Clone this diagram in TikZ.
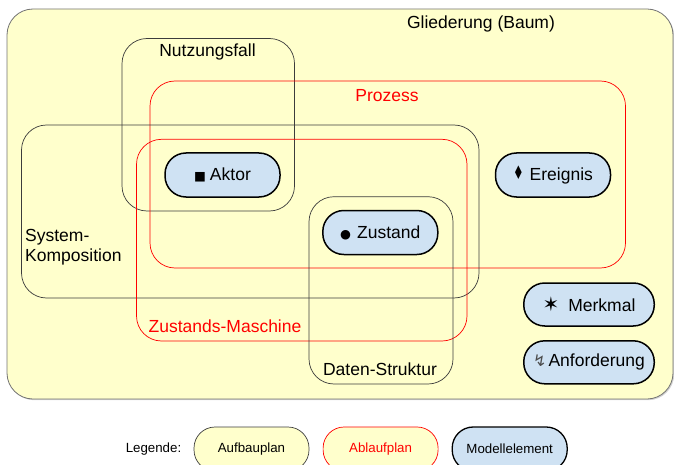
\documentclass[tikz,border=0pt]{standalone}
\usepackage{fontspec}
\usepackage{graphicx}
\setmainfont{Liberation Sans}
\newfontfamily\symfnt{DejaVu Sans}
\usetikzlibrary{shadows}
\definecolor{bgyellow}{RGB}{255,255,204}
\definecolor{mblue}{RGB}{207,226,243}
\definecolor{pline}{RGB}{60,60,60}
\begin{document}
\begin{tikzpicture}[x=1pt,y=-1pt,
  every node/.style={font=\fontsize{17.5}{20}\selectfont, inner sep=0pt},
  outerbox/.style={draw=black!55, fill=bgyellow, line width=0.8pt, rounded corners=26pt,
    drop shadow={shadow xshift=1.2pt, shadow yshift=-1.2pt, opacity=0.35}},
  planbox/.style={draw=pline, line width=0.7pt, rounded corners=25pt},
  flowbox/.style={draw=red, line width=0.7pt, rounded corners=25pt},
  melem/.style={draw=black, fill=mblue, line width=1.5pt, rounded corners=21pt},
  lbl/.style={anchor=center},
  lgd/.style={font=\fontsize{13.3}{15}\selectfont}]
\useasboundingbox (0,0) rectangle (674,465);
\clip (0,0) rectangle (674,465);
% outer structure
\node[outerbox, minimum width=666, minimum height=390] (glied) at (340,204) {};
\node[lbl] (gliedl) at (481,24) {Gliederung (Baum)};
% plan boxes
\node[planbox, minimum width=172.5, minimum height=172.5] (nutz) at (208.25,124.75) {};
\node[lbl] (nutzl) at (207.5,52) {Nutzungsfall};
\node[flowbox, minimum width=475.5, minimum height=187] (proz) at (387.75,174.5) {};
\node[lbl, text=red] (prozl) at (387,95.7) {Prozess};
\node[planbox, minimum width=457.5, minimum height=173] (sys) at (250.25,211.5) {};
\node[anchor=west, align=left, font=\fontsize{17.5}{19.7}\selectfont] (sysl) at (25,247) {System-\\Komposition};
\node[flowbox, minimum width=330.5, minimum height=201.7] (zm) at (301.75,240.15) {};
\node[lbl, text=red] (zml) at (225,326) {Zustands-Maschine};
\node[planbox, minimum width=144, minimum height=187.3] (ds) at (381,290.35) {};
\node[lbl] (dsl) at (380,369) {Daten-Struktur};
% model elements
\node[melem, minimum width=115, minimum height=44] (aktor) at (222.5,175) {{\symfnt\fontsize{12.5}{10}\selectfont ■}\hspace{4pt}Aktor};
\node[melem, minimum width=115, minimum height=44] (zust) at (380.3,232.5) {{\symfnt\fontsize{12.5}{10}\selectfont ●}\hspace{6pt}Zustand};
\node[melem, minimum width=115, minimum height=44] (ereig) at (553,175) {\raisebox{0.3pt}{\scalebox{0.7}[1.1]{\symfnt\fontsize{17}{10}\selectfont ♦}}\hspace{6pt}Ereignis};
\node[melem, minimum width=130.5, minimum height=43] (merk) at (589,304.5) {{\symfnt\fontsize{20}{10}\selectfont ✶}\hspace{9pt}Merkmal};
\node[melem, minimum width=130.5, minimum height=43] (anf) at (589,362.3) {{\symfnt\fontsize{16}{10}\selectfont\color{black!70}↯}\hspace{2pt}Anforderung};
% legend
\node[lgd] (legl) at (153.5,449) {Legende:};
\node[draw=pline, fill=bgyellow, line width=0.7pt, rounded corners=21pt, minimum width=115, minimum height=44, lgd] (laufb) at (251.5,449) {Aufbauplan};
\node[draw=red, fill=bgyellow, line width=0.7pt, rounded corners=21pt, minimum width=115, minimum height=44, lgd, text=red] (lablauf) at (380.6,449) {Ablaufplan};
\node[melem, minimum width=115, minimum height=44, lgd, line width=1.3pt] (lmod) at (509.7,449) {Modellelement};
\end{tikzpicture}
\end{document}
